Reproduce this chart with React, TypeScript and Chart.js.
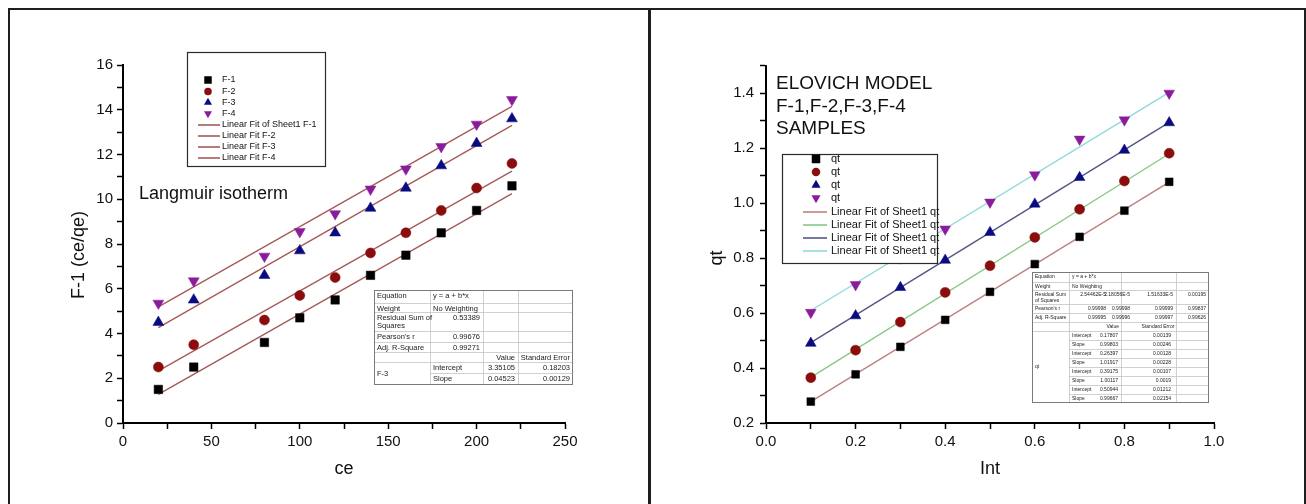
import React, { useEffect, useRef } from 'react';
import { Chart, registerables } from 'chart.js';

Chart.register(...registerables);

const FONT = "'Liberation Sans', Arial, Helvetica, sans-serif";

// ---------------- Left panel: Langmuir isotherm ----------------
const ceValues = [20, 40, 80, 100, 120, 140, 160, 180, 200, 220];
const f1Values = [1.5, 2.5, 3.6, 4.7, 5.5, 6.6, 7.5, 8.5, 9.5, 10.6];
const f2Values = [2.5, 3.5, 4.6, 5.7, 6.5, 7.6, 8.5, 9.5, 10.5, 11.6];
const f3Values = [4.5, 5.5, 6.6, 7.7, 8.5, 9.6, 10.5, 11.5, 12.5, 13.6];
const f4Values = [5.35, 6.35, 7.45, 8.55, 9.35, 10.45, 11.35, 12.35, 13.35, 14.45];
const ceFitEnds = [20, 220];
const f1Fit = [1.28, 10.25];
const f2Fit = [2.33, 11.26];
const f3Fit = [4.26, 13.3];
const f4Fit = [5.19, 14.15];
const leftSeriesLabels = ['F-1', 'F-2', 'F-3', 'F-4'];
const leftFitLabels = ['Linear Fit of Sheet1 F-1', 'Linear Fit F-2', 'Linear Fit F-3', 'Linear Fit F-4'];
const leftXTicks = { min: 0, max: 250, step: 25, labelEvery: 50 };
const leftYTicks = { min: 0, max: 16, step: 1, labelEvery: 2 };

// ---------------- Right panel: Elovich model ----------------
const intValues = [0.1, 0.2, 0.3, 0.4, 0.5, 0.6, 0.7, 0.8, 0.9];
const qt1Values = [0.278, 0.377, 0.477, 0.575, 0.677, 0.778, 0.877, 0.972, 1.077];
const qt2Values = [0.365, 0.465, 0.567, 0.675, 0.772, 0.875, 0.977, 1.08, 1.181];
const qt3Values = [0.49, 0.59, 0.693, 0.792, 0.893, 0.996, 1.093, 1.192, 1.292];
const qt4Values = [0.602, 0.703, 0.8, 0.905, 1.003, 1.102, 1.232, 1.302, 1.399];
const intFitEnds = [0.1, 0.9];
const qt1Fit = [0.278, 1.076];
const qt2Fit = [0.366, 1.179];
const qt3Fit = [0.492, 1.293];
const qt4Fit = [0.609, 1.402];
const rightSeriesLabels = ['qt', 'qt', 'qt', 'qt'];
const rightFitLabels = ['Linear Fit of Sheet1 qt', 'Linear Fit of Sheet1 qt', 'Linear Fit of Sheet1 qt', 'Linear Fit of Sheet1 qt'];
const rightXTicks = { min: 0, max: 1, step: 0.1 };
const rightYTicks = { min: 0.2, max: 1.5, step: 0.1 };
const rightTitleLines = ['ELOVICH MODEL', 'F-1,F-2,F-3,F-4', 'SAMPLES'];

// ---------------- Styles ----------------
const MARKER_STYLES = ['rect', 'circle', 'triangle', 'triangleDown'];
const MARKER_COLORS = ['#000000', '#8b0c0c', '#0b0b80', '#8a1c9c'];
const LEFT_FIT_COLORS = ['#a65a5a', '#a65a5a', '#a65a5a', '#a65a5a'];
const RIGHT_FIT_COLORS = ['#be8080', '#86c986', '#555588', '#8fdada'];

const pts = (xs: number[], ys: number[]) => xs.map((x, i) => ({ x, y: ys[i] }));

function drawMarker(ctx: CanvasRenderingContext2D, style: string, x: number, y: number, size: number, color: string) {
  ctx.fillStyle = color;
  ctx.beginPath();
  if (style === 'rect') {
    ctx.rect(x - size / 2, y - size / 2, size, size);
  } else if (style === 'circle') {
    ctx.arc(x, y, size / 2, 0, Math.PI * 2);
  } else {
    const r = size * 0.62;
    const s = style === 'triangle' ? 1 : -1;
    ctx.moveTo(x, y - s * r);
    ctx.lineTo(x + r * 0.866, y + (s * r) / 2);
    ctx.lineTo(x - r * 0.866, y + (s * r) / 2);
    ctx.closePath();
  }
  ctx.fill();
}

type LegendSpec = {
  box: [number, number, number, number];
  markerX: number;
  lineX: [number, number];
  textX: number;
  rowsY: number[];
  font: number;
  markerSize: number;
  labels: string[];
  fitColors: string[];
};

function drawLegend(ctx: CanvasRenderingContext2D, spec: LegendSpec) {
  const [bx, by, bw, bh] = spec.box;
  ctx.fillStyle = '#fff';
  ctx.fillRect(bx, by, bw, bh);
  ctx.strokeStyle = '#2a2a2a';
  ctx.lineWidth = 1.2;
  ctx.strokeRect(bx + 0.5, by + 0.5, bw, bh);
  ctx.font = `${spec.font}px ${FONT}`;
  ctx.textBaseline = 'middle';
  ctx.textAlign = 'left';
  spec.labels.forEach((label, i) => {
    const y = spec.rowsY[i];
    if (i < 4) {
      drawMarker(ctx, MARKER_STYLES[i], spec.markerX, y, spec.markerSize, MARKER_COLORS[i]);
    } else {
      ctx.strokeStyle = spec.fitColors[i - 4];
      ctx.lineWidth = 1.6;
      ctx.beginPath();
      ctx.moveTo(spec.lineX[0], y);
      ctx.lineTo(spec.lineX[1], y);
      ctx.stroke();
    }
    ctx.fillStyle = '#111';
    ctx.fillText(label, spec.textX, y);
  });
}

type Cell = { r: number; c: number; t: string; a: 'l' | 'r' | 'c'; span?: number; x?: number };
type TableSpec = {
  cols: number[];
  rows: number[];
  cells: Cell[];
  merged: { c: number; r0: number; r1: number }[];
  font: number;
  firstOffset: number;
};

function drawTable(ctx: CanvasRenderingContext2D, spec: TableSpec) {
  const { cols, rows } = spec;
  const L = cols[0], R = cols[cols.length - 1], T = rows[0], B = rows[rows.length - 1];
  ctx.fillStyle = '#fff';
  ctx.fillRect(L, T, R - L, B - T);
  ctx.strokeStyle = '#c4c4c4';
  ctx.lineWidth = 0.8;
  ctx.beginPath();
  for (let i = 1; i < rows.length - 1; i++) {
    let sx = L;
    for (const m of spec.merged) if (i > m.r0 && i <= m.r1) sx = cols[m.c + 1];
    ctx.moveTo(sx, rows[i] + 0.5);
    ctx.lineTo(R, rows[i] + 0.5);
  }
  for (let j = 1; j < cols.length - 1; j++) {
    ctx.moveTo(cols[j] + 0.5, T);
    ctx.lineTo(cols[j] + 0.5, B);
  }
  ctx.stroke();
  ctx.strokeStyle = '#7a7a7a';
  ctx.lineWidth = 1;
  ctx.strokeRect(L + 0.5, T + 0.5, R - L - 1, B - T - 1);
  ctx.fillStyle = '#222';
  ctx.font = `${spec.font}px ${FONT}`;
  ctx.textBaseline = 'middle';
  const lh = spec.font * 1.1;
  for (const cell of spec.cells) {
    const span = cell.span ?? 1;
    const top = rows[cell.r];
    const bot = rows[cell.r + span];
    const lines = cell.t.split('\n');
    const y0 = span > 1 ? (top + bot) / 2 - ((lines.length - 1) * lh) / 2 : top + spec.firstOffset;
    let x: number;
    if (cell.x !== undefined) x = cell.x;
    else if (cell.a === 'l') x = cols[cell.c] + 3;
    else if (cell.a === 'r') x = cols[cell.c + 1] - 3;
    else x = (cols[cell.c] + cols[cell.c + 1]) / 2;
    ctx.textAlign = cell.a === 'l' ? 'left' : cell.a === 'r' ? 'right' : 'center';
    lines.forEach((ln, k) => ctx.fillText(ln, x, y0 + k * lh));
  }
}

const LEFT_LEGEND: LegendSpec = {
  box: [187, 52, 138, 114],
  markerX: 208,
  lineX: [198, 220],
  textX: 222,
  rowsY: [80, 91.5, 102.5, 113.5, 125, 136, 147, 158],
  font: 9,
  markerSize: 7.5,
  labels: [...leftSeriesLabels, ...leftFitLabels],
  fitColors: LEFT_FIT_COLORS,
};

const RIGHT_LEGEND: LegendSpec = {
  box: [782, 154, 155, 109],
  markerX: 816,
  lineX: [803, 827],
  textX: 831,
  rowsY: [159, 172, 185, 198, 212, 225, 238, 251],
  font: 11,
  markerSize: 8.5,
  labels: [...rightSeriesLabels, ...rightFitLabels],
  fitColors: RIGHT_FIT_COLORS,
};

const LEFT_TABLE: TableSpec = {
  cols: [374, 430, 483, 518, 573],
  rows: [290, 303, 312, 331, 342, 352, 362, 373, 385],
  merged: [{ c: 0, r0: 6, r1: 7 }],
  font: 7.5,
  firstOffset: 5.5,
  cells: [
    { r: 0, c: 0, t: 'Equation', a: 'l' },
    { r: 0, c: 1, t: 'y = a + b*x', a: 'l' },
    { r: 1, c: 0, t: 'Weight', a: 'l' },
    { r: 1, c: 1, t: 'No Weighting', a: 'l' },
    { r: 2, c: 0, t: 'Residual Sum of\nSquares', a: 'l' },
    { r: 2, c: 1, t: '0.53389', a: 'r' },
    { r: 3, c: 0, t: "Pearson's r", a: 'l' },
    { r: 3, c: 1, t: '0.99676', a: 'r' },
    { r: 4, c: 0, t: 'Adj. R-Square', a: 'l' },
    { r: 4, c: 1, t: '0.99271', a: 'r' },
    { r: 5, c: 2, t: 'Value', a: 'r' },
    { r: 5, c: 3, t: 'Standard Error', a: 'r' },
    { r: 6, c: 0, t: 'F-3', a: 'l', span: 2 },
    { r: 6, c: 1, t: 'Intercept', a: 'l' },
    { r: 6, c: 2, t: '3.35105', a: 'r' },
    { r: 6, c: 3, t: '0.18203', a: 'r' },
    { r: 7, c: 1, t: 'Slope', a: 'l' },
    { r: 7, c: 2, t: '0.04523', a: 'r' },
    { r: 7, c: 3, t: '0.00129', a: 'r' },
  ],
};

const rightParamNames = ['Intercept', 'Slope', 'Intercept', 'Slope', 'Intercept', 'Slope', 'Intercept', 'Slope'];
const rightParamValues = ['0.17807', '0.99803', '0.26397', '1.01917', '0.39175', '1.00117', '0.50944', '0.99667'];
const rightParamErrors = ['0.00139', '0.00246', '0.00128', '0.00228', '0.00107', '0.0019', '0.01212', '0.02154'];

const RIGHT_TABLE: TableSpec = {
  cols: [1032, 1069, 1121, 1176, 1209],
  rows: [272, 282, 290, 304, 313, 322, 331, 340, 349, 358, 367, 376, 385, 394, 403],
  merged: [{ c: 0, r0: 6, r1: 13 }],
  font: 5,
  firstOffset: 5,
  cells: [
    { r: 0, c: 0, t: 'Equation', a: 'l' },
    { r: 0, c: 1, t: 'y = a + b*x', a: 'l' },
    { r: 1, c: 0, t: 'Weight', a: 'l' },
    { r: 1, c: 1, t: 'No Weighting', a: 'l' },
    { r: 2, c: 0, t: 'Residual Sum\nof Squares', a: 'l' },
    { r: 2, c: 1, t: '2.54462E-5', a: 'r', x: 1106 },
    { r: 2, c: 1, t: '2.18056E-5', a: 'r', x: 1130 },
    { r: 2, c: 2, t: '1.51633E-5', a: 'r', x: 1173 },
    { r: 2, c: 3, t: '0.00195', a: 'r', x: 1206 },
    { r: 3, c: 0, t: "Pearson's r", a: 'l' },
    { r: 3, c: 1, t: '0.99998', a: 'r', x: 1106 },
    { r: 3, c: 1, t: '0.99998', a: 'r', x: 1130 },
    { r: 3, c: 2, t: '0.99999', a: 'r', x: 1173 },
    { r: 3, c: 3, t: '0.99837', a: 'r', x: 1206 },
    { r: 4, c: 0, t: 'Adj. R-Square', a: 'l' },
    { r: 4, c: 1, t: '0.99995', a: 'r', x: 1106 },
    { r: 4, c: 1, t: '0.99996', a: 'r', x: 1130 },
    { r: 4, c: 2, t: '0.99997', a: 'r', x: 1173 },
    { r: 4, c: 3, t: '0.99626', a: 'r', x: 1206 },
    { r: 5, c: 1, t: 'Value', a: 'r', x: 1119 },
    { r: 5, c: 2, t: 'Standard Error', a: 'c', x: 1158 },
    { r: 6, c: 0, t: 'qt', a: 'l', span: 8 },
    ...rightParamNames.map((t, i) => ({ r: 6 + i, c: 1, t, a: 'l' as const })),
    ...rightParamValues.map((t, i) => ({ r: 6 + i, c: 1, t, a: 'r' as const, x: 1118 })),
    ...rightParamErrors.map((t, i) => ({ r: 6 + i, c: 2, t, a: 'r' as const, x: 1171 })),
  ],
};

function scatterSets(xs: number[], series: number[][], labels: string[], radii: number[]) {
  return series.map((ys, i) => ({
    label: labels[i],
    data: pts(xs, ys),
    showLine: false,
    pointStyle: MARKER_STYLES[i] === 'triangleDown' ? 'triangle' : MARKER_STYLES[i],
    rotation: MARKER_STYLES[i] === 'triangleDown' ? 180 : 0,
    pointRadius: radii[i],
    pointHoverRadius: radii[i],
    backgroundColor: MARKER_COLORS[i],
    borderColor: MARKER_COLORS[i],
    borderWidth: 0.5,
  }));
}

function fitSets(xs: number[], fits: number[][], labels: string[], colors: string[]) {
  return fits.map((ys, i) => ({
    label: labels[i],
    data: pts(xs, ys),
    showLine: true,
    pointRadius: 0,
    pointHoverRadius: 0,
    borderColor: colors[i],
    backgroundColor: colors[i],
    borderWidth: 1.4,
  }));
}

function makeScale(o: {
  min: number;
  max: number;
  step: number;
  fit: (s: any) => void;
  label: (v: number, i: number) => string;
  pad: number;
}) {
  return {
    type: 'linear',
    min: o.min,
    max: o.max,
    afterFit: o.fit,
    border: { display: true, color: '#000', width: 2 },
    grid: {
      display: true,
      drawOnChartArea: false,
      drawTicks: true,
      tickLength: 6,
      tickColor: '#000',
      tickWidth: 1.5,
      color: '#000',
    },
    ticks: {
      stepSize: o.step,
      autoSkip: false,
      maxRotation: 0,
      minRotation: 0,
      padding: o.pad,
      color: '#111',
      font: { family: FONT, size: 15 },
      callback: (v: any, i: number) => o.label(Number(v), i),
    },
  };
}

const LEFT_W = 648;
const RIGHT_X = 651;
const RIGHT_W = 653;
const H = 504;

export default function App() {
  const leftRef = useRef<HTMLCanvasElement>(null);
  const rightRef = useRef<HTMLCanvasElement>(null);

  useEffect(() => {
    const leftDecor = {
      id: 'leftDecor',
      afterDraw(chart: any) {
        const { ctx, chartArea } = chart;
        ctx.save();
        ctx.fillStyle = '#111';
        ctx.font = `18px ${FONT}`;
        ctx.textAlign = 'center';
        ctx.textBaseline = 'alphabetic';
        ctx.fillText('ce', (chartArea.left + chartArea.right) / 2, 474);
        ctx.save();
        ctx.translate(79, 255);
        ctx.rotate(-Math.PI / 2);
        ctx.textBaseline = 'middle';
        ctx.fillText('F-1 (ce/qe)', 0, 0);
        ctx.restore();
        ctx.textAlign = 'left';
        ctx.fillText('Langmuir isotherm', 139, 199);
        drawLegend(ctx, LEFT_LEGEND);
        drawTable(ctx, LEFT_TABLE);
        ctx.restore();
      },
    };

    const rightDecor = {
      id: 'rightDecor',
      afterDraw(chart: any) {
        const { ctx, chartArea } = chart;
        ctx.save();
        ctx.fillStyle = '#111';
        ctx.font = `18px ${FONT}`;
        ctx.textAlign = 'center';
        ctx.textBaseline = 'alphabetic';
        ctx.fillText('Int', (chartArea.left + chartArea.right) / 2, 474);
        ctx.translate(-RIGHT_X, 0);
        ctx.save();
        ctx.translate(717, 258);
        ctx.rotate(-Math.PI / 2);
        ctx.textBaseline = 'middle';
        ctx.fillText('qt', 0, 0);
        ctx.restore();
        ctx.textAlign = 'left';
        ctx.font = `19px ${FONT}`;
        const ys = [89, 111.5, 134];
        rightTitleLines.forEach((t, i) => ctx.fillText(t, 776, ys[i]));
        drawLegend(ctx, RIGHT_LEGEND);
        drawTable(ctx, RIGHT_TABLE);
        ctx.restore();
      },
    };

    const left = new Chart(leftRef.current as HTMLCanvasElement, {
      type: 'scatter',
      data: {
        datasets: [
          ...scatterSets(ceValues, [f1Values, f2Values, f3Values, f4Values], leftSeriesLabels, [6, 5, 6.3, 6.3]),
          ...fitSets(ceFitEnds, [f1Fit, f2Fit, f3Fit, f4Fit], leftFitLabels, LEFT_FIT_COLORS),
        ] as any,
      },
      options: {
        responsive: false,
        animation: false,
        devicePixelRatio: 1,
        layout: { padding: { left: 0, top: 65, right: LEFT_W - 565, bottom: 0 } },
        plugins: { legend: { display: false }, tooltip: { enabled: false } },
        scales: {
          x: makeScale({
            min: leftXTicks.min,
            max: leftXTicks.max,
            step: leftXTicks.step,
            pad: 4,
            fit: (s) => {
              s.height = H - 423;
            },
            label: (v) => (Math.round(v) % leftXTicks.labelEvery === 0 ? String(Math.round(v)) : ''),
          }),
          y: makeScale({
            min: leftYTicks.min,
            max: leftYTicks.max,
            step: leftYTicks.step,
            pad: 4,
            fit: (s) => {
              s.width = 123;
            },
            label: (v) => (Math.round(v) % leftYTicks.labelEvery === 0 ? String(Math.round(v)) : ''),
          }),
        } as any,
      },
      plugins: [leftDecor],
    });

    const right = new Chart(rightRef.current as HTMLCanvasElement, {
      type: 'scatter',
      data: {
        datasets: [
          ...scatterSets(intValues, [qt1Values, qt2Values, qt3Values, qt4Values], rightSeriesLabels, [5.5, 5, 6.2, 6.2]),
          ...fitSets(intFitEnds, [qt1Fit, qt2Fit, qt3Fit, qt4Fit], rightFitLabels, RIGHT_FIT_COLORS),
        ] as any,
      },
      options: {
        responsive: false,
        animation: false,
        devicePixelRatio: 1,
        layout: { padding: { left: 0, top: 65.5, right: RIGHT_W - (1214 - RIGHT_X), bottom: 0 } },
        plugins: { legend: { display: false }, tooltip: { enabled: false } },
        scales: {
          x: makeScale({
            min: rightXTicks.min,
            max: rightXTicks.max,
            step: rightXTicks.step,
            pad: 4,
            fit: (s) => {
              s.height = H - 423;
            },
            label: (v, i) => (i % 2 === 0 ? v.toFixed(1) : ''),
          }),
          y: makeScale({
            min: rightYTicks.min,
            max: rightYTicks.max,
            step: rightYTicks.step,
            pad: 6,
            fit: (s) => {
              s.width = 766 - RIGHT_X;
            },
            label: (v, i) => (i % 2 === 0 ? v.toFixed(1) : ''),
          }),
        } as any,
      },
      plugins: [rightDecor],
    });

    return () => {
      left.destroy();
      right.destroy();
    };
  }, []);

  const line = (s: React.CSSProperties) => (
    <div style={{ position: 'absolute', background: '#1e1e1e', ...s }} />
  );

  return (
    <div style={{ position: 'absolute', left: 0, top: 0, width: 1306, height: H, background: '#fff', overflow: 'hidden' }}>
      <canvas
        ref={leftRef}
        width={LEFT_W}
        height={H}
        style={{ position: 'absolute', left: 0, top: 0, width: LEFT_W, height: H }}
      />
      <canvas
        ref={rightRef}
        width={RIGHT_W}
        height={H}
        style={{ position: 'absolute', left: RIGHT_X, top: 0, width: RIGHT_W, height: H }}
      />
      {line({ left: 8, top: 8, width: 1298, height: 2 })}
      {line({ left: 8, top: 8, width: 2, height: H - 8 })}
      {line({ left: 648, top: 8, width: 3, height: H - 8 })}
      {line({ left: 1304, top: 8, width: 2, height: H - 8 })}
    </div>
  );
}
